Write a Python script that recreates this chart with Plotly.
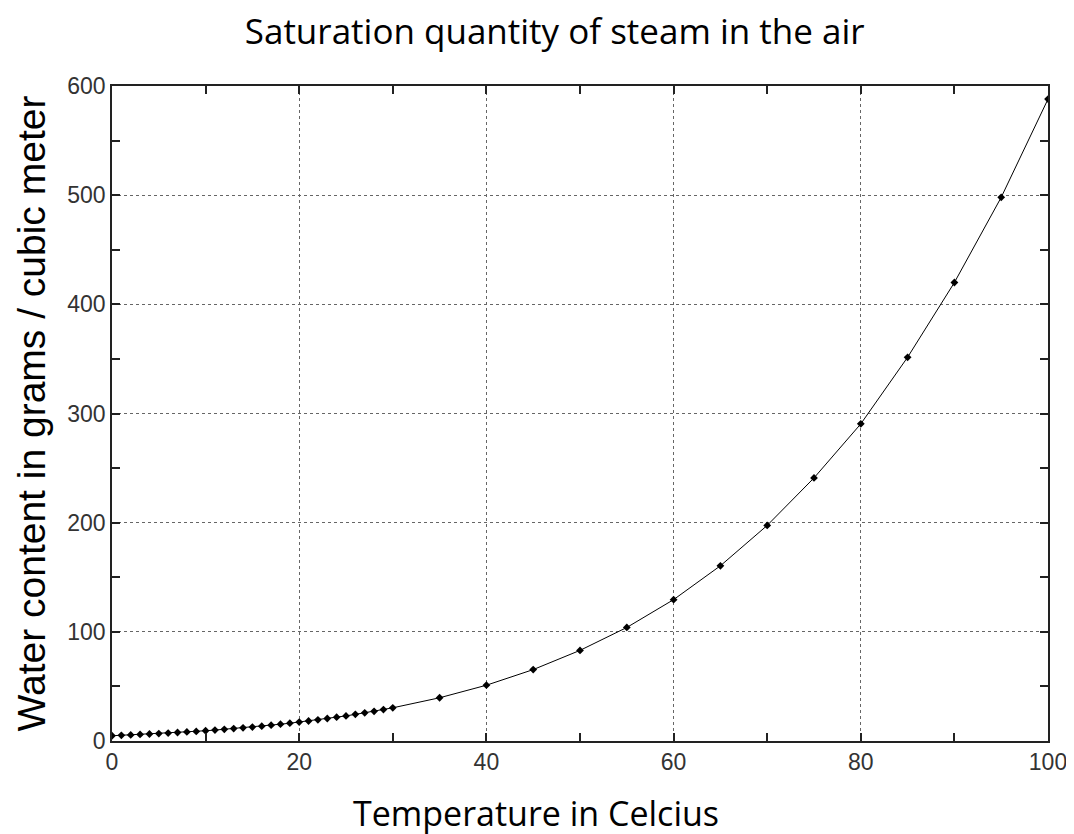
import plotly.graph_objects as go

temperature = list(range(0, 31)) + [35, 40, 45, 50, 55, 60, 65, 70, 75, 80, 85, 90, 95, 100]
water_content = [4.8, 5.2, 5.6, 6.0, 6.4, 6.8, 7.3, 7.8, 8.3, 8.8,
                 9.4, 10.0, 10.7, 11.4, 12.1, 12.8, 13.6, 14.5, 15.4, 16.3,
                 17.3, 18.3, 19.4, 20.6, 21.8, 23.0, 24.4, 25.8, 27.2, 28.8,
                 30.4, 39.6, 51.1, 65.4, 83.0, 104.0, 129.5, 160.5, 197.5, 241.0,
                 290.5, 351.5, 420.0, 498.0, 588.0]

title_text = "Saturation quantity of steam in the air"
x_title = "Temperature in Celcius"
y_title = "Water content in grams / cubic meter"

fig = go.Figure()
fig.add_trace(go.Scatter(
    x=temperature, y=water_content, mode="lines+markers",
    line=dict(color="black", width=1),
    marker=dict(symbol="diamond", size=6, color="black"),
    showlegend=False,
))

axis_common = dict(
    showline=True, linecolor="#222", linewidth=1.5, mirror="ticks",
    ticks="inside", ticklen=8, tickcolor="#222", tickwidth=1.5,
    showgrid=True, gridcolor="#666", gridwidth=1, griddash="dot",
    zeroline=False,
    tickfont=dict(family="Liberation Sans, Arial", size=23, color="#333"),
)

fig.update_xaxes(
    range=[0, 100], dtick=20, tick0=0,
    minor=dict(dtick=10, ticks="inside", ticklen=8, tickcolor="#222", tickwidth=1.5, showgrid=False),
    **axis_common,
)
fig.update_yaxes(
    range=[0, 600], dtick=100, tick0=0,
    minor=dict(dtick=50, ticks="inside", ticklen=8, tickcolor="#222", tickwidth=1.5, showgrid=False),
    title=dict(text=y_title, font=dict(family="Liberation Sans, Arial", size=39, color="black"), standoff=10),
    **axis_common,
)

fig.add_annotation(
    text=x_title, xref="paper", yref="paper", x=0.453, y=-0.071,
    xanchor="center", yanchor="top", showarrow=False,
    font=dict(family="Open Sans, Lato", size=34, color="black"),
)

fig.update_layout(
    width=1074, height=834,
    margin=dict(l=104, r=34, t=78, b=101),
    plot_bgcolor="white", paper_bgcolor="white",
    title=dict(text=title_text, x=0.509, xanchor="center", y=0.971, yanchor="middle",
               font=dict(family="Open Sans, Lato", size=35, color="black")),
)

fig.write_html("out.html")
